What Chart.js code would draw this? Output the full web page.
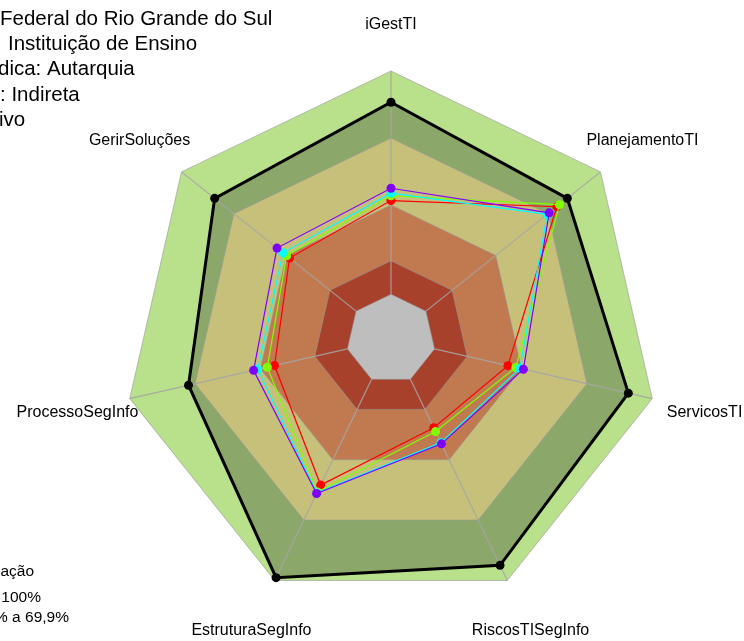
<!DOCTYPE html>
<html><head><meta charset="utf-8">
<script src="https://cdn.jsdelivr.net/npm/chart.js@4/dist/chart.umd.min.js"></script>
<style>html,body{margin:0;padding:0;background:#fff;overflow:hidden}canvas{display:block}</style>
</head><body>
<canvas id="c" width="744" height="641"></canvas>
<script>
// ---- data ----
const categories = ['iGestTI','PlanejamentoTI','ServicosTI','RiscosTISegInfo','EstruturaSegInfo','ProcessoSegInfo','GerirSoluções'];
const seriesMax    = [86, 81, 89, 92.5, 98.6, 73, 81];
const seriesRed    = [42, 75, 33.7, 24.1, 52.6, 33.5, 38.1];
const seriesGreen  = [44.1, 76.5, 37.3, 26, 56, 36.8, 39.8];
const seriesCyan   = [45.3, 69.5, 39.2, 31.5, 56.5, 41.2, 41.9];
const seriesPurple = [47.5, 70.6, 40.8, 32.1, 56.8, 43.1, 45.3];
const bandCenter      = [0,0,0,0,0,0,0];
const bandInexpressivo= [15,15,15,15,15,15,15];
const bandIniciando   = [40,40,40,40,40,40,40];
const bandIntermed    = [70,70,70,70,70,70,70];
const bandAprimorado  = [100,100,100,100,100,100,100];
const infoLines = [
  ['Instituto ', 'Federal do Rio Grande do Sul'],
  ['Segmento:  ', 'Instituição de Ensino'],
  ['Natureza Jurí', 'dica: Autarquia'],
  ['Administração', ': Indireta'],
  ['Poder: Execut', 'ivo']
];
const legendTitle = 'Classificação';
const legendItems = ['Aprimorado: 70% a 100%', 'Intermediário: 40% a 69,9%'];

const bandBorder = 'rgba(150,150,150,0.6)';
function band(id, data, color, order){
  return {id, data, order, fill:'start', backgroundColor:color, borderColor:bandBorder, borderWidth:1, pointRadius:0};
}
function series(data, color, order){
  return {data, order, fill:false, borderColor:color, borderWidth:1.2, pointRadius:4.5, pointBackgroundColor:color, pointBorderWidth:0};
}

const axisLines = {
  id:'axisLines',
  afterDatasetDraw(chart, args){
    if (chart.data.datasets[args.index].id !== 'center') return;
    const s = chart.scales.r, ctx = chart.ctx;
    ctx.save(); ctx.strokeStyle='rgba(165,165,165,0.9)'; ctx.lineWidth=1.2;
    for (let i=0;i<categories.length;i++){
      const a = s.getPointPositionForValue(i, 0), b = s.getPointPositionForValue(i, 100);
      ctx.beginPath(); ctx.moveTo(a.x,a.y); ctx.lineTo(b.x,b.y); ctx.stroke();
    }
    ctx.restore();
  }
};
const labelsPlugin = {
  id:'labelsPlugin',
  afterDraw(chart){
    const s = chart.scales.r, ctx = chart.ctx;
    ctx.save();
    ctx.fillStyle='#000'; ctx.font="16px 'Liberation Sans', Arial, sans-serif";
    ctx.textAlign='center'; ctx.textBaseline='middle';
    categories.forEach((c,i)=>{
      const p = s.getPointPositionForValue(i, 124);
      ctx.fillText(c, p.x, Math.max(p.y + 2, 25));
    });
    // info block top-left (clipped by the canvas edge)
    ctx.textAlign='left'; ctx.textBaseline='alphabetic';
    ctx.font="20.5px 'Liberation Sans', Arial, sans-serif";
    const infoX = [0, 8, -2, 0, -1], infoY = [25, 50, 75, 100.5, 126];
    infoLines.forEach((l,i)=>{ const w = ctx.measureText(l[0]).width; ctx.fillText(l[0]+l[1], infoX[i]-w, infoY[i]); });
    // legend block bottom-left (clipped)
    ctx.textAlign='right';
    ctx.font="15.5px 'Liberation Sans', Arial, sans-serif";
    ctx.fillText(legendTitle, 34, 575.5);
    const legEnd=[41, 69], legY=[601.5, 621.5];
    legendItems.forEach((l,i)=>{ ctx.fillText(l, legEnd[i], legY[i]); });
    ctx.restore();
  }
};

new Chart(document.getElementById('c'), {
  type:'radar',
  data:{
    labels: categories,
    datasets:[
      {data: seriesMax, order:0, fill:false, borderColor:'#000', borderWidth:3, pointRadius:4.5, pointBackgroundColor:'#000', pointBorderWidth:0},
      series(seriesPurple, '#8000FF', 1),
      series(seriesCyan, '#00FFFF', 2),
      series(seriesGreen, '#80FF00', 3),
      series(seriesRed, '#FF0000', 4),
      band('center', bandCenter, '#BEBEBE', 5),
      band('inexp', bandInexpressivo, '#A8412B', 6),
      band('inic', bandIniciando, '#C17A50', 7),
      band('interm', bandIntermed, '#C6C07A', 8),
      {id:'maxfill', data: seriesMax, order:9, fill:'start', backgroundColor:'#8BA86A', borderWidth:0, borderColor:'rgba(0,0,0,0)', pointRadius:0},
      band('aprim', bandAprimorado, '#B9E08B', 10)
    ]
  },
  options:{
    responsive:false, animation:false, devicePixelRatio:1,
    layout:{padding:{left:123, right:83.6, top:70.8, bottom:32.8}},
    plugins:{legend:{display:false}, tooltip:{enabled:false}},
    scales:{ r:{ min:-20, max:100, ticks:{display:false}, grid:{display:false}, angleLines:{display:false}, pointLabels:{display:false} } }
  },
  plugins:[axisLines, labelsPlugin]
});
</script>
</body></html>
